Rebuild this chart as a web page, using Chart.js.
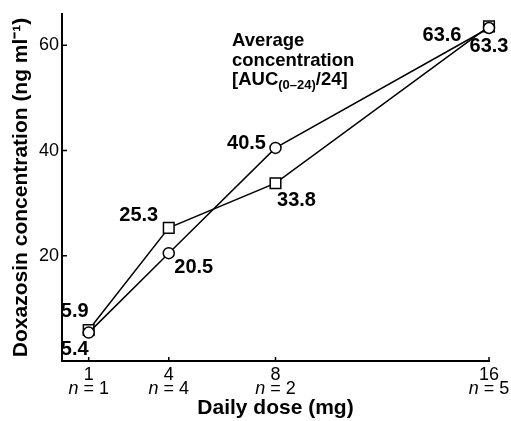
<!DOCTYPE html>
<html>
<head>
<meta charset="utf-8">
<script src="https://cdn.jsdelivr.net/npm/chart.js@4.4.1/dist/chart.umd.min.js"></script>
<style>
  html, body { margin: 0; padding: 0; background: #fff; }
</style>
</head>
<body>
<canvas id="doseChart" width="511" height="421"></canvas>
<script>
// Daily doses (mg) and number of patients per dose group
const doses = [1, 4, 8, 16];
const groupSizes = [1, 4, 2, 5];
// Average concentration series (ng/ml)
const squareValues = [5.9, 25.3, 33.8, 63.6];
const circleValues = [5.4, 20.5, 40.5, 63.3];
const yTicks = [20, 40, 60];

// where each value label sits relative to its marker (px)
const squareLabelOffsets = [[-14, -18], [-30, -12], [21, 17], [-47, 9]];
const circleLabelOffsets = [[-14, 17], [25, 14], [-29, -4], [0, 18]];

const FONT = '"Liberation Sans", Arial, Helvetica, sans-serif';
Chart.defaults.font.family = FONT;
Chart.defaults.color = '#000';

function toPoints(values) {
    return doses.map((d, i) => ({ x: d, y: values[i] }));
}

// Value labels next to every marker
const valueLabels = {
    id: 'valueLabels',
    afterDatasetsDraw(chart) {
        const ctx = chart.ctx;
        ctx.save();
        ctx.font = 'bold 20px ' + FONT;
        ctx.fillStyle = '#000';
        ctx.textAlign = 'center';
        ctx.textBaseline = 'middle';
        chart.data.datasets.forEach((ds, di) => {
            const meta = chart.getDatasetMeta(di);
            meta.data.forEach((pt, i) => {
                const off = ds.labelOffsets[i];
                ctx.fillText(ds.data[i].y.toFixed(1), pt.x + off[0], pt.y + off[1]);
            });
        });
        ctx.restore();
    }
};

// Inward tick marks, the "n = k" row and the note
const axisExtras = {
    id: 'axisExtras',
    afterDraw(chart) {
        const ctx = chart.ctx;
        const xs = chart.scales.x, ys = chart.scales.y;
        const area = chart.chartArea;
        ctx.save();
        ctx.strokeStyle = '#000';
        ctx.lineWidth = 1.5;
        ctx.beginPath();
        yTicks.forEach(v => {
            const py = ys.getPixelForValue(v);
            ctx.moveTo(area.left, py);
            ctx.lineTo(area.left + 5, py);
        });
        doses.forEach(d => {
            const px = xs.getPixelForValue(d);
            ctx.moveTo(px, area.bottom);
            ctx.lineTo(px, area.bottom - 4);
        });
        ctx.stroke();

        // n = k under each dose
        ctx.fillStyle = '#000';
        ctx.textBaseline = 'middle';
        ctx.textAlign = 'left';
        const italic = 'italic 18px ' + FONT;
        const normal = '18px ' + FONT;
        doses.forEach((d, i) => {
            const px = xs.getPixelForValue(d);
            const rest = ' = ' + groupSizes[i];
            ctx.font = italic;
            const wn = ctx.measureText('n').width;
            ctx.font = normal;
            const wr = ctx.measureText(rest).width;
            const x0 = px - (wn + wr) / 2;
            ctx.font = italic;
            ctx.fillText('n', x0, area.bottom + 28);
            ctx.font = normal;
            ctx.fillText(rest, x0 + wn, area.bottom + 28);
        });

        // note in the upper middle
        const nx = xs.getPixelForValue(6.37);
        ctx.textBaseline = 'alphabetic';
        ctx.font = 'bold 18.5px ' + FONT;
        ctx.fillText('Average', nx, ys.getPixelForValue(59.8));
        ctx.fillText('concentration', nx, ys.getPixelForValue(56.1));
        const by = ys.getPixelForValue(52.5);
        let cx = nx;
        ctx.fillText('[AUC', cx, by);
        cx += ctx.measureText('[AUC').width;
        ctx.font = 'bold 13px ' + FONT;
        ctx.fillText('(0\u201324)', cx, by + 4);
        cx += ctx.measureText('(0\u201324)').width;
        ctx.font = 'bold 18.5px ' + FONT;
        ctx.fillText('/24]', cx, by);
        ctx.restore();
    }
};

const ctx = document.getElementById('doseChart').getContext('2d');
const doseChart = new Chart(ctx, {
    type: 'line',
    data: {
        datasets: [{
            data: toPoints(squareValues),
            labelOffsets: squareLabelOffsets,
            order: 1,
            borderColor: '#000',
            borderWidth: 1.5,
            pointStyle: 'rect',
            pointRadius: 7.5,
            pointBackgroundColor: '#fff',
            pointBorderColor: '#000',
            pointBorderWidth: 1.5,
            tension: 0,
            clip: false
        }, {
            data: toPoints(circleValues),
            labelOffsets: circleLabelOffsets,
            order: 0,
            borderColor: '#000',
            borderWidth: 1.5,
            pointStyle: 'circle',
            pointRadius: 5.5,
            pointBackgroundColor: '#fff',
            pointBorderColor: '#000',
            pointBorderWidth: 1.5,
            tension: 0,
            clip: false
        }]
    },
    options: {
        responsive: false,
        animation: false,
        layout: {
            padding: { top: 10, right: 22, left: 0, bottom: 0 }
        },
        scales: {
            x: {
                type: 'linear',
                min: 0,
                max: 16,
                afterBuildTicks: scale => { scale.ticks = doses.map(v => ({ value: v })); },
                afterFit: scale => { scale.height = 60; },
                grid: { display: true, drawOnChartArea: false, drawTicks: false },
                border: { color: '#000', width: 2 },
                ticks: {
                    color: '#000',
                    font: { size: 18 },
                    padding: 3,
                    maxRotation: 0,
                    autoSkip: false,
                    callback: v => String(v)
                },
                title: {
                    display: true,
                    text: 'Daily dose (mg)',
                    color: '#000',
                    font: { size: 21, weight: 'bold' },
                    padding: { top: 0, bottom: 0 }
                }
            },
            y: {
                type: 'linear',
                min: 0,
                max: 66,
                afterBuildTicks: scale => { scale.ticks = yTicks.map(v => ({ value: v })); },
                afterFit: scale => { scale.width = 62; },
                grid: { display: true, drawOnChartArea: false, drawTicks: false },
                border: { color: '#000', width: 2 },
                ticks: {
                    color: '#000',
                    font: { size: 18 },
                    padding: 3
                },
                title: {
                    display: true,
                    text: 'Doxazosin concentration (ng ml\u207B\u00B9)',
                    color: '#000',
                    font: { size: 21, weight: 'bold' },
                    padding: { top: 9, bottom: 0 }
                }
            }
        },
        plugins: {
            legend: { display: false },
            tooltip: { enabled: false }
        }
    },
    plugins: [valueLabels, axisExtras]
});
</script>
</body>
</html>
